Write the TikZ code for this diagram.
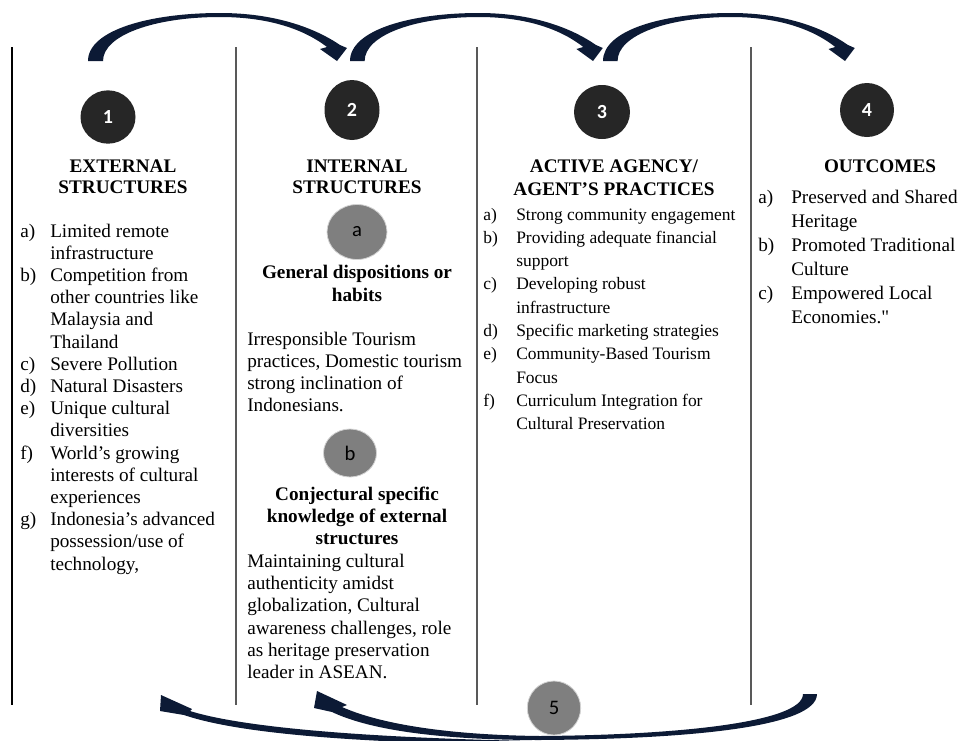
\documentclass[tikz,border=0pt]{standalone}
\usepackage{fontspec}
\setmainfont{Liberation Serif}
\newfontfamily\numfont{Carlito}
\usetikzlibrary{shapes.geometric}
\definecolor{navy}{HTML}{0C1A35}
\definecolor{dkcirc}{HTML}{262626}
\definecolor{gycirc}{HTML}{7F7F7F}
\tikzset{
 body/.style={inner sep=0pt, anchor=base west, font=\fontsize{14.4}{17}\selectfont},
 bodys/.style={inner sep=0pt, anchor=base west, font=\fontsize{13.1}{16}\selectfont},
 hd/.style={inner sep=0pt, anchor=base, font=\fontsize{14.4}{17}\selectfont\bfseries},
 dkc/.style={ellipse, fill=dkcirc, text=white, inner sep=0pt, font=\numfont\bfseries\fontsize{15}{17}\selectfont},
 gyc/.style={ellipse, fill=gycirc, draw=gray!35, line width=0.6pt, text=black, inner sep=0pt, font=\numfont\fontsize{15.5}{17}\selectfont},
 vline/.style={draw=black!65, line width=1.4pt},
 arrowfill/.style={fill=navy}
}
\begin{document}
\begin{tikzpicture}[x=0.75pt,y=-0.75pt]
\useasboundingbox (0,0) rectangle (961,740);
\clip (0,0) rectangle (961,740);
% vertical separators
\draw[vline, line width=1pt, draw=black] (12,47) -- (12,705);
\draw[vline] (236,47) -- (236,705);
\draw[vline] (477,47) -- (477,705);
\draw[vline] (751,47) -- (751,705);
% top curved arrows
\def\toparrowpath{(0,61) .. controls (0,30) and (62,13) .. (132,13) .. controls (187,13) and (227,28) .. (252,45) -- (259,48) -- (249,61) -- (232,49) -- (239,47) .. controls (217,30) and (182,17) .. (132,17) .. controls (67,17) and (15,35) .. (15,61) -- cycle}
\begin{scope}[shift={(88,0)}]
 \fill[arrowfill] \toparrowpath;
\end{scope}
\begin{scope}[shift={(350,0)}, xscale=0.976]
 \fill[arrowfill] \toparrowpath;
\end{scope}
\begin{scope}[shift={(603,0)}, xscale=0.972]
 \fill[arrowfill] \toparrowpath;
\end{scope}
% bottom curved arrows
\fill[arrowfill] (640,746) .. controls (450,746) and (260,741) .. (184,715) -- (160,711) -- (161,695) -- (192,709) -- (190,711) .. controls (260,733) and (450,742) .. (640,742) -- cycle;
\fill[arrowfill] (817,694) .. controls (817,727) and (690,739) .. (540,740) .. controls (445,740) and (372,731) .. (332,712) -- (314,708) -- (317,691) -- (347,705) -- (342,707) .. controls (380,724) and (448,735) .. (540,736) .. controls (680,735) and (803,722) .. (803,694) -- cycle;
% numbered circles
\node[dkc, minimum width=41.25pt, minimum height=40pt] (c1) at (108,117) {1};
\node[dkc, minimum width=41.25pt, minimum height=45pt] (c2) at (352,110) {2};
\node[dkc, minimum width=42pt, minimum height=40.5pt] (c3) at (602,112) {3};
\node[dkc, minimum width=40.5pt, minimum height=40.5pt] (c4) at (867,110) {4};
\node[gyc, minimum width=45pt, minimum height=41.25pt] (ca) at (357,232) {a};
\node[gyc, minimum width=39.75pt, minimum height=36pt] (cb) at (350,453) {b};
\node[gyc, minimum width=40pt, minimum height=40.5pt] (c5) at (554,708) {5};
% column 1
\node[hd] (h1a) at (123,172) {EXTERNAL};
\node[hd] (h1b) at (123,193) {STRUCTURES};
\node[body] (l1a) at (20,237) {a)};
\node[body] (t1a) at (50,237) {Limited remote};
\node[body] (t1a2) at (50,259.2) {infrastructure};
\node[body] (l1b) at (20,281.4) {b)};
\node[body] (t1b) at (50,281.4) {Competition from};
\node[body] (t1b2) at (50,303.6) {other countries like};
\node[body] (t1b3) at (50,325.8) {Malaysia and};
\node[body] (t1b4) at (50,348) {Thailand};
\node[body] (l1c) at (20,370.2) {c)};
\node[body] (t1c) at (50,370.2) {Severe Pollution};
\node[body] (l1d) at (20,392.4) {d)};
\node[body] (t1d) at (50,392.4) {Natural Disasters};
\node[body] (l1e) at (20,414.6) {e)};
\node[body] (t1e) at (50,414.6) {Unique cultural};
\node[body] (t1e2) at (50,436.8) {diversities};
\node[body] (l1f) at (20,459) {f)};
\node[body] (t1f) at (50,459) {World's growing};
\node[body] (t1f2) at (50,481.2) {interests of cultural};
\node[body] (t1f3) at (50,503.4) {experiences};
\node[body] (l1g) at (20,525.6) {g)};
\node[body] (t1g) at (50,525.6) {Indonesia's advanced};
\node[body] (t1g2) at (50,547.8) {possession/use of};
\node[body] (t1g3) at (50,570) {technology,};
% column 2
\node[hd] (h2a) at (357,172) {INTERNAL};
\node[hd] (h2b) at (357,193) {STRUCTURES};
\node[hd] (s2a) at (357,278) {General dispositions or};
\node[hd] (s2a2) at (357,301) {habits};
\node[body] (t2a) at (247,345) {Irresponsible Tourism};
\node[body] (t2a2) at (247,367) {practices, Domestic tourism};
\node[body] (t2a3) at (247,389) {strong inclination of};
\node[body] (t2a4) at (247,411) {Indonesians.};
\node[hd] (s2b) at (357,500) {Conjectural specific};
\node[hd] (s2b2) at (357,522) {knowledge of external};
\node[hd] (s2b3) at (357,544) {structures};
\node[body] (t2b) at (247,567) {Maintaining cultural};
\node[body] (t2b2) at (247,589) {authenticity amidst};
\node[body] (t2b3) at (247,611) {globalization, Cultural};
\node[body] (t2b4) at (247,634) {awareness challenges, role};
\node[body] (t2b5) at (247,656) {as heritage preservation};
\node[body] (t2b6) at (247,678) {leader in ASEAN.};
% column 3
\node[hd] (h3a) at (614,172) {ACTIVE AGENCY/};
\node[hd] (h3b) at (614,195) {AGENT'S PRACTICES};
\node[bodys] (l3a) at (483,220) {a)};
\node[bodys] (t3a) at (516,220) {Strong community engagement};
\node[bodys] (l3b) at (483,243.3) {b)};
\node[bodys] (t3b) at (516,243.3) {Providing adequate financial};
\node[bodys] (t3b2) at (516,266.6) {support};
\node[bodys] (l3c) at (483,289.9) {c)};
\node[bodys] (t3c) at (516,289.9) {Developing robust};
\node[bodys] (t3c2) at (516,313.2) {infrastructure};
\node[bodys] (l3d) at (483,336.5) {d)};
\node[bodys] (t3d) at (516,336.5) {Specific marketing strategies};
\node[bodys] (l3e) at (483,359.8) {e)};
\node[bodys] (t3e) at (516,359.8) {Community-Based Tourism};
\node[bodys] (t3e2) at (516,383.1) {Focus};
\node[bodys] (l3f) at (483,406.4) {f)};
\node[bodys] (t3f) at (516,406.4) {Curriculum Integration for};
\node[bodys] (t3f2) at (516,429.7) {Cultural Preservation};
% column 4
\node[hd] (h4) at (880,172) {OUTCOMES};
\node[body] (l4a) at (758,203) {a)};
\node[body] (t4a) at (791,203) {Preserved and Shared};
\node[body] (t4a2) at (791,227) {Heritage};
\node[body] (l4b) at (758,251) {b)};
\node[body] (t4b) at (791,251) {Promoted Traditional};
\node[body] (t4b2) at (791,275) {Culture};
\node[body] (l4c) at (758,299) {c)};
\node[body] (t4c) at (791,299) {Empowered Local};
\node[body] (t4c2) at (791,323) {Economies.\textquotedbl};
\end{tikzpicture}
\end{document}
